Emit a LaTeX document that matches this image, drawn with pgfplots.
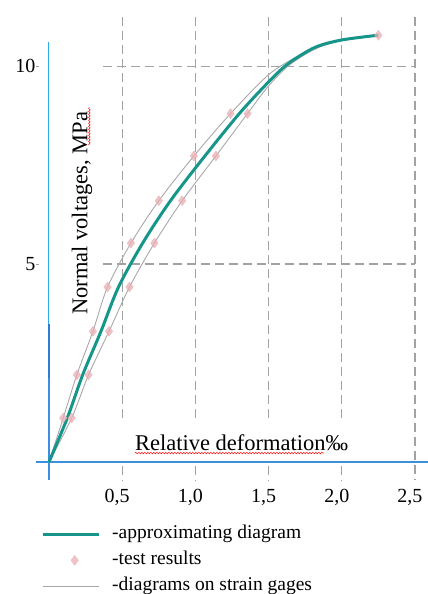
\documentclass[border=0pt]{standalone}
\usepackage{fontspec}
\setmainfont{Liberation Serif}
\usepackage{pgfplots}
\pgfplotsset{compat=1.18}
\usetikzlibrary{decorations.pathmorphing}
\definecolor{tealc}{HTML}{16958A}
\definecolor{grayc}{HTML}{A8A8A8}
\definecolor{gridc}{HTML}{A2A2A2}
\definecolor{pinkc}{HTML}{E9AFB4}
\definecolor{axblue}{HTML}{3C8FE0}
\definecolor{lightblue}{HTML}{2AAEE8}
\definecolor{darkblue}{HTML}{2D7BD6}
\pgfplotsset{
  markleg/.style={legend image code/.code={\path[draw=none] (0bp,0bp) -- (56bp,0bp); \draw[##1, draw=none] plot coordinates {(32bp,0bp)};}},
}
\tikzset{gridl/.style={gridc, line width=1.1bp, dash pattern=on 9bp off 5bp}}
\begin{document}
\begin{tikzpicture}
\path[use as bounding box] (-36bp,-114bp) rectangle (392bp,480bp);
\begin{axis}[
  at={(0,0)}, anchor=south west,
  scale only axis, width=392bp, height=463bp,
  xmin=-0.0888, xmax=2.589, ymin=-0.4545, ymax=11.24,
  axis line style={draw=none},
  clip=false,
  tick pos=left,
  xtick={0.5,1,1.5,2,2.5},
  xticklabels={{0,5},{1,0},{1,5},{2,0},{2,5}},
  ytick={5,10},
  yticklabels={5,10},
  xtick style={draw=none},
  ytick style={gridc, line width=0.8bp},
  major tick length=3bp, tick align=inside,
  /pgf/number format/assume math mode=true,
  xticklabel style={font=\fontsize{20bp}{24bp}\selectfont, yshift=-6bp, xshift=-5bp},
  yticklabel style={font=\fontsize{20bp}{24bp}\selectfont, xshift=3bp},
  legend cell align=left,
  legend image code/.code={\draw[#1] (0bp,0bp) -- (56bp,0bp);},
  legend style={draw=none, fill=none, at={(0.0128,-0.092)}, anchor=north west,
    font=\fontsize{19.5bp}{22bp}\selectfont, inner sep=0pt, row sep=3bp, column sep=10bp,
    nodes={inner sep=2bp, text height=14bp, text depth=5bp}},
]
% grid
\draw[gridl] (axis cs:0.5,11.24) -- (axis cs:0.5,1.01);
\draw[gridl] (axis cs:0.5,-0.1) -- (axis cs:0.5,-0.4545);
\draw[gridl] (axis cs:1,11.24) -- (axis cs:1,1.01);
\draw[gridl] (axis cs:1,-0.1) -- (axis cs:1,-0.4545);
\draw[gridl] (axis cs:1.5,11.24) -- (axis cs:1.5,1.01);
\draw[gridl] (axis cs:1.5,-0.1) -- (axis cs:1.5,-0.4545);
\draw[gridl] (axis cs:2,11.24) -- (axis cs:2,1.01);
\draw[gridl] (axis cs:2,-0.1) -- (axis cs:2,-0.4545);
\draw[gridl] (axis cs:2.5,11.24) -- (axis cs:2.5,-0.4545);
\draw[gridl] (axis cs:0.369,10) -- (axis cs:2.5,10);
\draw[gridl] (axis cs:0.369,5) -- (axis cs:2.5,5);
% blue axis lines
\draw[axblue, line width=1.5bp] (axis cs:-0.0888,0) -- (axis cs:2.589,0);
\draw[axblue, line width=2.6bp] (axis cs:-0.0888,0) -- (axis cs:0.485,0);
\draw[lightblue, line width=1bp] (axis cs:0,10.6) -- (axis cs:0,2.12);
\draw[axblue, line width=1.2bp] (axis cs:0,2.12) -- (axis cs:0,-0.4545);
\draw[darkblue, line width=2.6bp] (axis cs:0,3.48) -- (axis cs:0,2.12);
% labels
\node[anchor=base west, inner sep=0pt, font=\fontsize{22.5bp}{27bp}\selectfont] at (axis cs:0.587,0.30) {Relative deformation‰};
\draw[red, line width=0.5bp, decorate, decoration={snake, amplitude=0.8bp, segment length=3bp}] (axis cs:0.587,0.227) -- (axis cs:1.878,0.227);
\node[anchor=base west, rotate=90, inner sep=0pt, font=\fontsize{22.5bp}{27bp}\selectfont] at (axis cs:0.262,3.71) {Normal voltages, MPa};
\draw[red, line width=0.5bp, decorate, decoration={snake, amplitude=0.8bp, segment length=3bp}] (axis cs:0.276,8.0) -- (axis cs:0.276,8.96);
% strain gage diagrams
\addplot[grayc, line width=0.9bp, smooth, tension=0.5, forget plot] coordinates {
 (0,0) (0.097,1.11) (0.19,2.2) (0.30,3.3) (0.40,4.42) (0.56,5.53) (0.75,6.6)
 (0.99,7.73) (1.24,8.8) (1.49,9.75) (1.65,10.15) (1.83,10.5) (2.0,10.67) (2.25,10.79)};
\addplot[grayc, line width=0.9bp, smooth, tension=0.5, forget plot] coordinates {
 (0,0) (0.155,1.11) (0.27,2.2) (0.41,3.3) (0.55,4.42) (0.72,5.53) (0.91,6.6)
 (1.14,7.73) (1.356,8.8) (1.50,9.5) (1.65,10.05) (1.83,10.45) (2.0,10.64) (2.25,10.77)};
% approximating diagram
\addplot[tealc, line width=3bp, smooth, tension=0.5, forget plot] coordinates {
 (0,0) (0.125,1.11) (0.23,2.2) (0.355,3.3) (0.475,4.42) (0.64,5.53) (0.83,6.6)
 (1.065,7.73) (1.30,8.8) (1.5,9.6) (1.63,10.05) (1.815,10.47) (2.0,10.66) (2.25,10.78)};
% test results
\addplot[only marks, mark=diamond*, mark size=5bp, mark options={draw=pinkc, fill=pinkc, opacity=0.75}, forget plot] coordinates {
 (0.097,1.11) (0.155,1.11) (0.19,2.2) (0.27,2.2) (0.30,3.3) (0.41,3.3)
 (0.40,4.42) (0.55,4.42) (0.56,5.53) (0.72,5.53) (0.75,6.6) (0.91,6.6)
 (0.99,7.73) (1.14,7.73) (1.24,8.8) (1.356,8.8) (2.25,10.78)};
% legend
\addlegendimage{tealc, line width=3bp}
\addlegendentry{-approximating diagram}
\addlegendimage{only marks, mark=diamond*, mark size=5bp, mark options={draw=pinkc, fill=pinkc, opacity=0.75}, markleg}
\addlegendentry{-test results}
\addlegendimage{grayc, line width=0.9bp}
\addlegendentry{-diagrams on strain gages}
\end{axis}
\end{tikzpicture}
\end{document}
